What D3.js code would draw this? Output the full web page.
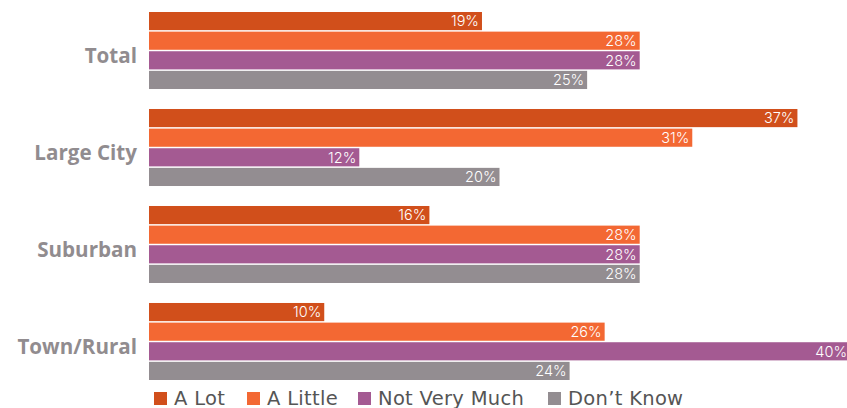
<!DOCTYPE html>
<html><head><meta charset="utf-8">
<script src="https://cdn.jsdelivr.net/npm/d3@7"></script>
<style>body{margin:0;background:#fff;}svg{display:block;}</style>
</head><body>
<svg id="chart" width="847" height="408"></svg>
<script>
const categories = ["Total", "Large City", "Suburban", "Town/Rural"];
const seriesNames = ["A Lot", "A Little", "Not Very Much", "Don\u2019t Know"];
const aLot = [19, 37, 16, 10];
const aLittle = [28, 31, 28, 26];
const notVeryMuch = [28, 12, 28, 40];
const dontKnow = [25, 20, 28, 24];
const colors = ["#d14f1b", "#f36833", "#a45a92", "#938d91"];

const seriesValues = [aLot, aLittle, notVeryMuch, dontKnow];
const svg = d3.select("#chart");

const x = d3.scaleLinear().domain([0, 40]).range([149, 850]);
const y0 = d3.scaleBand().domain(categories).range([12, 380]).paddingInner(0.206).paddingOuter(0);
const y1 = d3.scaleBand().domain(seriesNames).range([0, y0.bandwidth()]).paddingInner(0.075);

const groups = svg.selectAll("g.grp").data(categories).join("g")
  .attr("class", "grp")
  .attr("transform", d => `translate(0,${y0(d)})`);

groups.each(function(cat, ci) {
  const g = d3.select(this);
  seriesNames.forEach((s, si) => {
    const v = seriesValues[si][ci];
    g.append("rect")
      .attr("x", x(0)).attr("y", y1(s))
      .attr("width", x(v) - x(0)).attr("height", y1.bandwidth())
      .attr("fill", colors[si]);
    g.append("text")
      .attr("x", x(v) - 3).attr("y", y1(s) + y1.bandwidth() / 2)
      .attr("dy", "0.36em").attr("text-anchor", "end")
      .attr("font-family", "Inter, 'Noto Sans', sans-serif")
      .attr("font-size", 14.5).attr("font-weight", 300)
      .attr("fill", "#ffffff")
      .text(v + "%");
  });
  g.append("text")
    .attr("x", 137).attr("y", y0.bandwidth() / 2 + 5)
    .attr("dy", "0.35em").attr("text-anchor", "end")
    .attr("font-family", "'Open Sans', sans-serif")
    .attr("font-size", 20.6).attr("font-weight", 700)
    .attr("fill", "#918c8f")
    .text(cat);
});

// Legend
const legendX = [154, 247, 358, 548];
const legend = svg.append("g");
seriesNames.forEach((s, i) => {
  legend.append("rect").attr("x", legendX[i]).attr("y", 392).attr("width", 13).attr("height", 13).attr("fill", colors[i]);
  legend.append("text").attr("x", legendX[i] + 20).attr("y", 404.5)
    .attr("font-family", "'DejaVu Sans', sans-serif")
    .attr("font-size", 19.5).attr("font-weight", 400)
    .attr("letter-spacing", 0.3)
    .attr("fill", "#555555").text(s);
});
</script>
</body></html>
